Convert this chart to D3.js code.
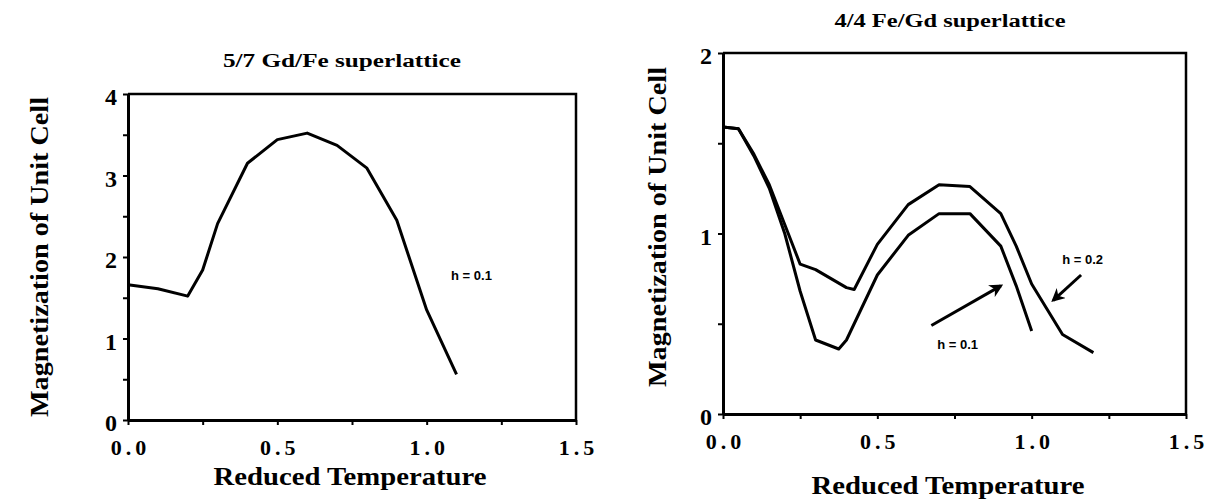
<!DOCTYPE html>
<html><head><meta charset="utf-8">
<script src="https://cdn.jsdelivr.net/npm/d3@7"></script>
<style>
body{margin:0;background:#fff;}
svg{display:block;}
.t{font-family:"Liberation Serif","Times New Roman",serif;font-weight:bold;fill:#000;}
.s{font-family:"Liberation Sans",Arial,sans-serif;font-weight:bold;fill:#000;}
</style></head>
<body>
<script>
// ---- data ----
const leftTitle = "5/7  Gd/Fe superlattice";
const rightTitle = "4/4 Fe/Gd superlattice";
const xLabel = "Reduced Temperature";
const yLabel = "Magnetization of Unit Cell";

const leftT = [0, 0.1, 0.2, 0.25, 0.3, 0.4, 0.5, 0.6, 0.7, 0.8, 0.9, 1.0, 1.1];
const leftM = [1.66, 1.61, 1.52, 1.84, 2.41, 3.15, 3.44, 3.52, 3.37, 3.09, 2.45, 1.35, 0.56];

const h02T = [0, 0.05, 0.1, 0.15, 0.2, 0.25, 0.3, 0.4, 0.425, 0.5, 0.6, 0.7, 0.8, 0.9, 0.95, 1.0, 1.05, 1.1, 1.2];
const h02M = [1.59, 1.58, 1.44, 1.27, 1.05, 0.83, 0.80, 0.70, 0.69, 0.94, 1.16, 1.27, 1.26, 1.11, 0.93, 0.72, 0.58, 0.44, 0.34];

const h01T = [0, 0.05, 0.1, 0.15, 0.2, 0.25, 0.3, 0.375, 0.4, 0.5, 0.6, 0.7, 0.8, 0.9, 0.95, 1.0];
const h01M = [1.59, 1.58, 1.43, 1.25, 1.0, 0.68, 0.41, 0.36, 0.41, 0.77, 0.99, 1.11, 1.11, 0.93, 0.71, 0.46];

const xTicks = [0, 0.25, 0.5, 0.75, 1.0, 1.25, 1.5];
const leftYTicks = [0, 0.5, 1, 1.5, 2, 2.5, 3, 3.5, 4];
const rightYTicks = [0, 0.5, 1, 1.5, 2];

// ---- drawing ----
const W = 1212, H = 502;
const svg = d3.select("body").append("svg").attr("width", W).attr("height", H);

function panel(cfg) {
  const x = d3.scaleLinear().domain([0, 1.5]).range(cfg.xr);
  const y = d3.scaleLinear().domain(cfg.yd).range(cfg.yr);
  const g = svg.append("g");
  // frame top/right
  g.append("path")
    .attr("d", `M${x(0)},${y(cfg.yd[1])}H${x(1.5)}V${y(0)}`)
    .attr("fill", "none").attr("stroke", "#000").attr("stroke-width", 2.5);
  // x axis
  const xa = g.append("g").attr("transform", `translate(0,${y(0)})`)
    .call(d3.axisBottom(x).tickValues(xTicks).tickSize(5).tickSizeOuter(0).tickPadding(14)
      .tickFormat(d => (Math.round(d * 2) === d * 2) ? d3.format(".1f")(d) : ""));
  xa.select(".domain").attr("stroke-width", 3);
  xa.selectAll(".tick line").attr("stroke-width", 2);
  xa.selectAll("text").attr("class", "t").attr("font-size", 22).attr("letter-spacing", 4)
    .attr("dx", 2).attr("fill", "#000");
  // y axis
  const ya = g.append("g").attr("transform", `translate(${x(0)},0)`)
    .call(d3.axisLeft(y).tickValues(cfg.yTicks).tickSize(5).tickSizeOuter(0).tickPadding(6)
      .tickFormat(d => Number.isInteger(d) ? String(d) : ""));
  ya.select(".domain").attr("stroke-width", 3);
  ya.selectAll(".tick line").attr("stroke-width", 2);
  ya.selectAll("text").attr("class", "t").attr("font-size", 24).attr("dy", "0.45em").attr("fill", "#000");
  // title
  g.append("text").attr("class", "t").attr("font-size", 18)
    .attr("x", cfg.titleX).attr("y", cfg.titleY).attr("text-anchor", "middle")
    .attr("textLength", cfg.titleW).attr("lengthAdjust", "spacingAndGlyphs").text(cfg.title);
  // x label
  g.append("text").attr("class", "t").attr("font-size", 26)
    .attr("x", cfg.xlX).attr("y", cfg.xlY).attr("text-anchor", "middle")
    .attr("textLength", 273).attr("lengthAdjust", "spacingAndGlyphs").text(xLabel);
  // y label
  g.append("text").attr("class", "t").attr("font-size", 26)
    .attr("transform", `translate(${cfg.ylX},${cfg.ylY}) rotate(-90)`)
    .attr("text-anchor", "middle")
    .attr("textLength", 320).attr("lengthAdjust", "spacingAndGlyphs").text(yLabel);
  // curves
  const line = d3.line().x(d => x(d[0])).y(d => y(d[1]));
  cfg.series.forEach(s => {
    g.append("path").datum(d3.zip(s[0], s[1])).attr("d", line)
      .attr("fill", "none").attr("stroke", "#000").attr("stroke-width", 3).attr("stroke-linejoin", "round");
  });
  return {x, y, g};
}

const L = panel({
  xr: [128, 576], yd: [0, 4], yr: [420, 94], yTicks: leftYTicks,
  title: leftTitle, titleX: 342, titleY: 67, titleW: 238, xlX: 350, xlY: 485, ylX: 48, ylY: 257,
  series: [[leftT, leftM]]
});
L.g.append("text").attr("class", "s").attr("font-size", 13)
  .attr("x", L.x(1.15)).attr("y", L.y(1.78) + 5).attr("text-anchor", "middle").text("h = 0.1");

const R = panel({
  xr: [723, 1186], yd: [0, 2], yr: [414, 53], yTicks: rightYTicks,
  title: rightTitle, titleX: 950, titleY: 27, titleW: 231, xlX: 948, xlY: 494, ylX: 666, ylY: 227,
  series: [[h02T, h02M], [h01T, h01M]]
});

// annotations and arrows
svg.append("defs").append("marker").attr("id", "ah").attr("viewBox", "0 0 10 10")
  .attr("refX", 8).attr("refY", 5).attr("markerWidth", 4.5).attr("markerHeight", 4.5)
  .attr("orient", "auto").append("path").attr("d", "M0,0L10,5L0,10L3,5Z").attr("fill", "#000");

const ann = [
  {label: "h = 0.2", lx: 1.165, ly: 0.86, from: [1.16, 0.77], to: [1.07, 0.63]},
  {label: "h = 0.1", lx: 0.76, ly: 0.39, from: [0.675, 0.49], to: [0.9, 0.71]}
];
ann.forEach(a => {
  R.g.append("text").attr("class", "s").attr("font-size", 13)
    .attr("x", R.x(a.lx)).attr("y", R.y(a.ly) + 5).attr("text-anchor", "middle").text(a.label);
  R.g.append("line").attr("x1", R.x(a.from[0])).attr("y1", R.y(a.from[1]))
    .attr("x2", R.x(a.to[0])).attr("y2", R.y(a.to[1]))
    .attr("stroke", "#000").attr("stroke-width", 3).attr("marker-end", "url(#ah)");
});
</script>
</body></html>
